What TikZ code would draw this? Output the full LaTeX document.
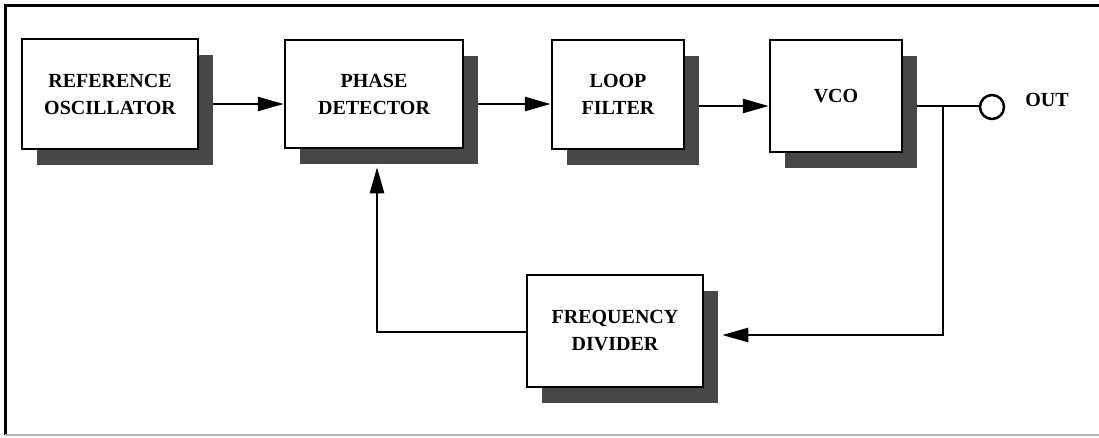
\documentclass[tikz,border=0pt]{standalone}
\usepackage{fontspec}
\setmainfont{Liberation Serif}
\usetikzlibrary{shadows,backgrounds,arrows.meta}
\begin{document}
\begin{tikzpicture}[x=1pt,y=-1pt,
  txt/.style={font=\fontsize{20}{27}\selectfont\bfseries},
  block/.style={txt,draw=black,line width=2.5pt,fill=white,align=center,inner sep=0pt,
    drop shadow={shadow xshift=15pt,shadow yshift=-16pt,fill=black!72,opacity=1}},
  conn/.style={line width=2.5pt},
  arr/.style={conn,-{Triangle[length=26pt,width=14pt]}}]
\useasboundingbox (0,0) rectangle (1099,437);
% frame
\draw[line width=3pt] (1099,5) -- (5,5) -- (5,435);
\draw[gray!60,line width=1.5pt] (5,435) -- (1099,435);
% blocks
\node[block,minimum width=176pt,minimum height=110pt] (ref) at (110,94) {REFERENCE\\OSCILLATOR};
\node[block,minimum width=178pt,minimum height=108pt] (pd) at (374,94) {PHASE\\DETECTOR};
\node[block,minimum width=132pt,minimum height=109pt] (lf) at (618,94.5) {LOOP\\FILTER};
\node[block,minimum width=132pt,minimum height=112pt] (vco) at (836,96) {VCO};
\node[block,minimum width=176pt,minimum height=112pt] (fd) at (615,331) {FREQUENCY\\DIVIDER};
\node[circle,draw,line width=2.5pt,fill=white,minimum size=24pt,inner sep=0pt] (out) at (992,107) {};
\node[txt] (outlbl) at (1047,100) {OUT};
\coordinate (j) at (943,106);
% connectors
\begin{scope}[on background layer]
\path ([yshift=-10pt]ref.east) coordinate (a1)
      ([yshift=-10pt]pd.east) coordinate (a2)
      ([yshift=-11.5pt]lf.east) coordinate (a3)
      ([yshift=-10pt]vco.east) coordinate (a4);
\draw[arr] (a1) -- (a1 -| pd.west);
\draw[arr] (a2) -- (a2 -| lf.west);
\draw[arr] (a3) -- (a3 -| vco.west);
\draw[conn] (a4) -- (a4 -| out.west);
\draw[arr] (j) |- ([xshift=18pt,yshift=-4pt]fd.east);
\draw[arr] ([yshift=-1pt]fd.west) -| ([xshift=3pt,yshift=-18pt]pd.south);
\end{scope}
\end{tikzpicture}
\end{document}
